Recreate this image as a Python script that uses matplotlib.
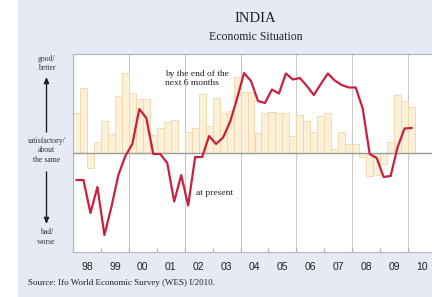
import matplotlib
matplotlib.use("Agg")
import matplotlib.pyplot as plt
import numpy as np

# quarterly survey results, 1998 Q1 .. 2010 Q1
start_year = 1998
n_quarters = 49

# bars: present economic situation
present = [40, 65, -15, 11.5, 32, 19.5, 57, 80, 60, 54, 54, 18,
           25.5, 31.5, 33, 0, 21, 25.5, 59.5, 27, 55, 40, 42, 76.5,
           61, 61, 20.5, 40, 41, 40, 40, 17, 38, 32, 21, 37.5,
           40, 4, 21, 9, 9, -3.5, -23, -22, -10.5, 11.5, 58, 52.5,
           46]

# line: expectations for the next 6 months
expected = [-27, -27, -60, -34, -82, -54, -22, -3, 9, 44, 35, -1,
            -1, -10, -48.5, -22, -52.5, -4, -4, 17, 9, 15.5, 31, 54.5,
            80, 72, 52, 50, 63.5, 59.5, 79.5, 73.5, 75, 67, 58, 69,
            79.5, 72.5, 68, 65.5, 65.5, 44.5, -1, -5, -24, -23, 6, 24.5,
            25]

year_labels = ['98', '99', '00', '01', '02', '03', '04', '05', '06',
               '07', '08', '09', '10']

bg = '#e6eaf4'
red = '#c8203f'
serif = 'Liberation Serif'

fig = plt.figure(figsize=(4.32, 2.97), dpi=100)
fig.patch.set_facecolor(bg)
# white strip on the far left
fig.patches.append(plt.Rectangle((0, 0), 18 / 432, 1, transform=fig.transFigure,
                                 facecolor='white', edgecolor='none', zorder=0))

ax = fig.add_axes([73 / 432, 45 / 297, 363 / 432, 198 / 297])
ax.set_facecolor('white')

q_left = start_year + np.arange(n_quarters) * 0.25
ax.bar(q_left, present, width=0.25, align='edge', color='#fdf0d9',
       edgecolor='#f3d6a4', linewidth=0.6, zorder=2)
ax.plot(q_left + 0.125, expected, color=red, linewidth=1.6, zorder=4)

ax.axhline(0, color='#9a9a9a', linewidth=1.0, zorder=3)
for yr in range(2000, 2011, 2):
    ax.axvline(yr, color='#c9c9c9', linewidth=0.8, zorder=1)

ax.set_xlim(1998, 2011)
ax.set_ylim(-99, 99)
ax.set_yticks([])

ax.set_xticks(np.arange(1998, 2012))
ax.set_xticklabels([])
ax.set_xticks(np.arange(1998, 2011) + 0.5, minor=True)
ax.set_xticklabels(year_labels, minor=True, fontsize=7.5,
                   family='Liberation Sans', color='#222222')
ax.tick_params(axis='x', which='major', direction='in', length=3,
               color='#b0b0b0', width=0.8)
ax.tick_params(axis='x', which='minor', length=0, pad=7)

for s in ['top', 'left', 'bottom', 'right']:
    ax.spines[s].set_color('#b5b5b5')
    ax.spines[s].set_linewidth(0.8)

ax.text(2001.3, 83, 'by the end of the\nnext 6 months', fontsize=6.8,
        family=serif, color='#222222', va='top', linespacing=1.1, zorder=5)
ax.text(2002.4, -40, 'at present', fontsize=6.8, family=serif,
        color='#222222', va='center', zorder=5)

# titles
fig.text(255.5 / 432, 1 - 19 / 297, 'INDIA', ha='center', va='center',
         fontsize=10.5, family=serif, color='#222222')
fig.text(255.5 / 432, 1 - 37 / 297, 'Economic Situation', ha='center',
         va='center', fontsize=8.5, family=serif, color='#222222')

# left scale description
def ftext(x, y, s):
    fig.text(x / 432, 1 - y / 297, s, ha='center', va='center',
             fontsize=5.6, family=serif, color='#333333')

ftext(46.5, 59, 'good/')
ftext(46.5, 68, 'better')
ftext(46.5, 141, 'satisfactory/')
ftext(46.5, 150.5, 'about')
ftext(46.5, 160, 'the same')
ftext(46.5, 231.5, 'bad/')
ftext(46.5, 241.5, 'worse')

arrow = dict(arrowstyle='-|>,head_length=0.35,head_width=0.15',
             color='#222222', lw=1.0, shrinkA=0, shrinkB=0)
fig.add_artist(matplotlib.patches.FancyArrowPatch(
    (46.5 / 432, 1 - 132 / 297), (46.5 / 432, 1 - 77 / 297),
    transform=fig.transFigure, mutation_scale=10, **arrow))
fig.add_artist(matplotlib.patches.FancyArrowPatch(
    (46.5 / 432, 1 - 172 / 297), (46.5 / 432, 1 - 224 / 297),
    transform=fig.transFigure, mutation_scale=10, **arrow))

fig.text(28 / 432, 1 - 283 / 297, 'Source: Ifo World Economic Survey (WES) I/2010.',
         ha='left', va='center', fontsize=6.5, family=serif, color='#222222')

fig.savefig('out.png', dpi=100, facecolor=fig.get_facecolor())
